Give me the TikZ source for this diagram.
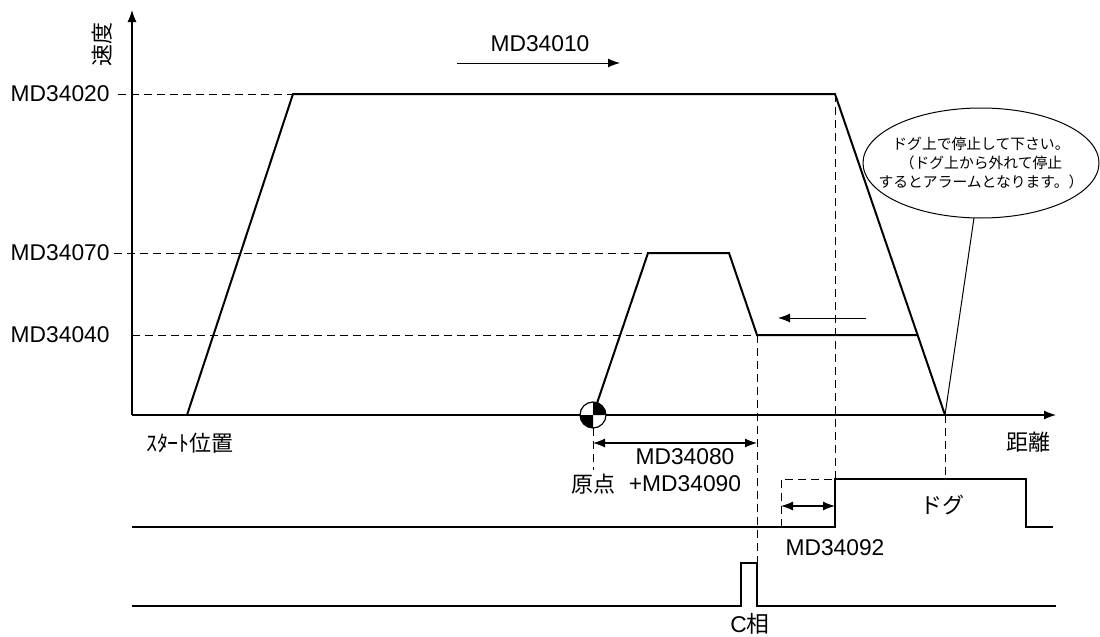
\documentclass[tikz,border=0pt]{standalone}
\usepackage{fontspec}
\setmainfont{Liberation Sans}
\newfontfamily\jp{Noto Sans CJK JP}
\usetikzlibrary{arrows.meta}

\begin{document}
\begin{tikzpicture}[x=0.5pt,y=-0.5pt,inner sep=0pt,
  font=\fontsize{11.4}{13}\selectfont,
  jptext/.style={font=\jp\fontsize{11}{13}\selectfont},
  trait/.style={line width=1pt},
  tiret/.style={line width=0.5pt,dash pattern=on 4pt off 2.5pt},
  fleche/.style={line width=0.5pt,-{Latex[length=6pt,width=4.5pt]}},
  cote/.style={line width=0.6pt,{Latex[length=6pt,width=4.5pt]}-{Latex[length=6pt,width=4.5pt]}}]

\useasboundingbox (0,0) rectangle (1100,637);

% Points
\coordinate (O) at (132,415);
\coordinate (ytip) at (132,10);
\coordinate (xtip) at (1056,415);
\coordinate (p1) at (187,415);
\coordinate (p2) at (293,94);
\coordinate (p3) at (835,94);
\coordinate (p4) at (918,335);
\coordinate (p5) at (945,415);
\coordinate (org) at (593,415);
\coordinate (t1) at (648,253);
\coordinate (t2) at (729,253);
\coordinate (t3) at (757,335);

% Axes
\draw[line width=0.6pt,-{Latex[length=6pt,width=4.5pt]}] (O) -- (ytip);
\draw[line width=0.6pt,-{Latex[length=6pt,width=4.5pt]}] (O) -- (xtip);
\node[rotate=90,jptext] (vit) at (102,45) {速度};
\node[jptext] (dist) at (1028,442) {距離};
\node[jptext] (depart) at (190,443) {ｽﾀｰﾄ位置};

% Vitesses
\node[anchor=east] (v20) at (110,94) {MD34020};
\node[anchor=east] (v70) at (110,253) {MD34070};
\node[anchor=east] (v40) at (110,335) {MD34040};
\draw[tiret] ([xshift=4pt]v20.east) -- (p2);
\draw[tiret] ([xshift=2pt]v70.east) -- (t1);
\draw[tiret] (O |- t3) -- (t3);

% Profil
\draw[trait] (p1) -- (p2) -- (p3) -- (p5);
\draw[trait] (org) -- (t1) -- (t2) -- (t3) -- (p4);

% Sens de marche
\node (m10) at (540,44) {MD34010};
\draw[fleche] (457,63) coordinate (m10a) -- (620,63) coordinate (m10b);
\draw[fleche] (866,318) coordinate (reta) -- (778,318) coordinate (retb);

% Origine
\fill[white] (org) circle (6.5pt);
\begin{scope}[shift={(org)},x=1pt,y=1pt]
\fill (0,0) -- (6.5,0) arc[start angle=0,end angle=90,radius=6.5] -- cycle;
\fill (0,0) -- (-6.5,0) arc[start angle=180,end angle=270,radius=6.5] -- cycle;
\end{scope}
\draw[line width=0.6pt] (org) circle (6.5pt);
\draw[tiret] (593,428) -- (593,470);
\node[jptext] (origine) at (593,484) {原点};
\draw[cote] (593,443) -- (757,443);
\node (m80) at (685,457) {MD34080};
\node (m90) at (685,484) {+MD34090};

% Ligne de la came
\coordinate (g0) at (132,527);
\coordinate (d1) at (835,527);
\coordinate (d2) at (835,479);
\coordinate (d3) at (1026,479);
\coordinate (d4) at (1026,527);
\coordinate (g5) at (1053,527);
\draw[trait] (g0) -- (d1) -- (d2) -- (d3) -- (d4) -- (g5);
\node[jptext] (dog) at (942,505) {ドグ};
\draw[tiret] (p3) -- (d2);
\draw[tiret] (p5) -- (p5 |- d2);
\draw[tiret] (781,527) -- (781,479) -- (d2);
\draw[cote] (781,506) -- (835,506);
\node (m92) at (835,548) {MD34092};

% Phase C
\coordinate (c0) at (132,606);
\coordinate (c1) at (741,606);
\coordinate (c2) at (741,563);
\coordinate (c3) at (757,563);
\coordinate (c4) at (757,606);
\coordinate (c5) at (1056,606);
\draw[line width=0.6pt] (c0) -- (c1) -- (c2) -- (c3) -- (c4) -- (c5);
\draw[tiret] (t3) -- (c3);
\node (phc) at (750,624) {C{\jp 相}};

% Bulle
\coordinate (bulle) at (981,163);
\coordinate (pied) at (974,218);
\draw[line width=0.5pt] (bulle) ellipse [x radius=118,y radius=55];
\node[align=center,font=\jp\fontsize{7.4}{9.3}\selectfont] (texte) at (bulle)
  {ドグ上で停止して下さい。\\（ドグ上から外れて停止\\するとアラームとなります。）};
\draw[line width=0.5pt] (pied) -- (p5);

\end{tikzpicture}
\end{document}
